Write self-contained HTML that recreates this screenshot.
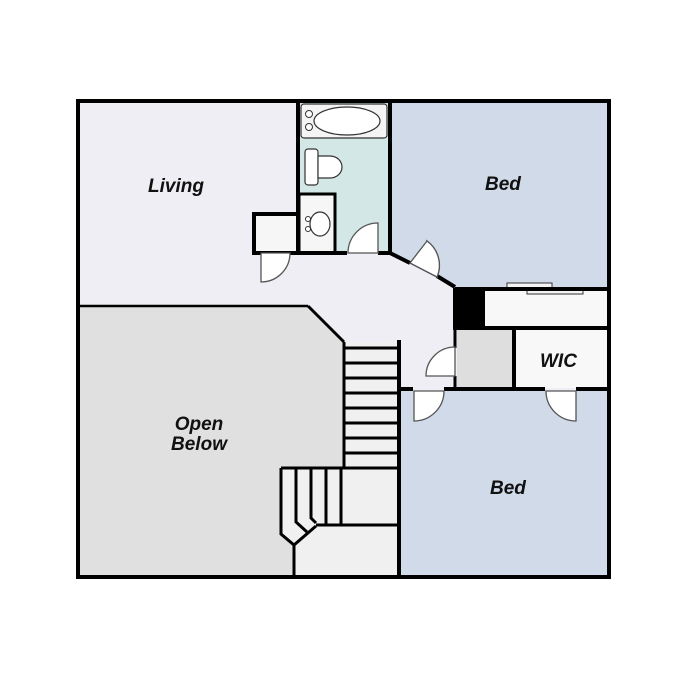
<!DOCTYPE html>
<html><head><style>body{margin:0;background:#fff}svg{display:block}text{font-family:"Liberation Sans",sans-serif;font-weight:bold;font-style:italic;font-size:19px;fill:#111}</style></head>
<body>
<svg width="700" height="700" viewBox="0 0 700 700" xmlns="http://www.w3.org/2000/svg">
<rect x="0" y="0" width="700" height="700" fill="#fff"/>
<!-- base hall/living -->
<rect x="78" y="101" width="531" height="476" fill="#eeeef4"/>
<!-- open below -->
<polygon points="80,306 308,306 344,342 344,468 281,468 281,534 294,545 294,575 80,575" fill="#e0e0e0"/>
<polygon points="344,342 399,342 399,575 294,575 294,545 281,534 281,468 344,468" fill="#f0f0f0"/>
<!-- bath -->
<rect x="299" y="103" width="91" height="150" fill="#d3e8e6"/>
<rect x="301" y="104" width="86" height="34" rx="3" fill="#f4f4f4" stroke="#333" stroke-width="1.2"/>
<ellipse cx="347" cy="121" rx="33" ry="14" fill="#fff" stroke="#333" stroke-width="1.2"/>
<circle cx="309" cy="114" r="3.5" fill="#fff" stroke="#333"/>
<circle cx="309" cy="127" r="3.5" fill="#fff" stroke="#333"/>
<rect x="305" y="149" width="13" height="36" rx="3" fill="#fff" stroke="#333" stroke-width="1.2"/>
<path d="M318,156 L330,156 A12,11 0 0 1 330,178 L318,178 Z" fill="#fff" stroke="#333" stroke-width="1.2"/>
<rect x="299" y="194" width="36" height="59" fill="#f6f6f6" stroke="#000" stroke-width="3"/>
<ellipse cx="320" cy="224" rx="10" ry="12" fill="#fff" stroke="#333" stroke-width="1.2"/>
<circle cx="308" cy="219" r="2.5" fill="#fff" stroke="#333"/>
<circle cx="308" cy="229" r="2.5" fill="#fff" stroke="#333"/>
<!-- small closet -->
<rect x="254" y="214" width="44" height="39" fill="#f6f6f6" stroke="#000" stroke-width="4"/>
<!-- top bed -->
<polygon points="390,103 607,103 607,288 455,288 407,262 390,253" fill="#d0dae8"/>
<!-- closet -->
<rect x="455" y="288" width="30" height="40" fill="#000"/>
<rect x="485" y="290" width="122" height="38" fill="#f8f8f8"/>
<rect x="507" y="283" width="45" height="5" fill="#f4f4f4" stroke="#333"/>
<rect x="527" y="290" width="56" height="4" fill="#f4f4f4" stroke="#333"/>
<line x1="455" y1="289" x2="609" y2="289" stroke="#000" stroke-width="4"/>
<line x1="455" y1="328" x2="609" y2="328" stroke="#000" stroke-width="4"/>
<!-- WIC -->
<rect x="457" y="330" width="56" height="58" fill="#dedede"/>
<rect x="514" y="330" width="94" height="58" fill="#f8f8f8"/>
<line x1="514" y1="328" x2="514" y2="390" stroke="#000" stroke-width="4"/>
<line x1="455" y1="288" x2="455" y2="330" stroke="#000" stroke-width="4"/>
<line x1="455" y1="330" x2="455" y2="348" stroke="#000" stroke-width="3"/>
<line x1="455" y1="376" x2="455" y2="390" stroke="#000" stroke-width="3"/>
<!-- bottom bed -->
<rect x="400" y="391" width="207" height="184" fill="#d0dae8"/>
<line x1="399" y1="389" x2="413" y2="389" stroke="#000" stroke-width="4"/>
<line x1="444" y1="389" x2="545" y2="389" stroke="#000" stroke-width="4"/>
<line x1="576" y1="389" x2="609" y2="389" stroke="#000" stroke-width="4"/>
<!-- stairs -->
<line x1="399" y1="340" x2="399" y2="577" stroke="#000" stroke-width="4"/>
<line x1="344" y1="342" x2="344" y2="468" stroke="#000" stroke-width="3"/>
<line x1="308" y1="306" x2="344" y2="342" stroke="#000" stroke-width="3"/>
<line x1="80" y1="306" x2="308" y2="306" stroke="#000" stroke-width="2.5"/>
<g stroke="#000" stroke-width="3">
<line x1="344" y1="348" x2="399" y2="348"/><line x1="344" y1="363" x2="399" y2="363"/>
<line x1="344" y1="378" x2="399" y2="378"/><line x1="344" y1="393" x2="399" y2="393"/>
<line x1="344" y1="408" x2="399" y2="408"/><line x1="344" y1="423" x2="399" y2="423"/>
<line x1="344" y1="438" x2="399" y2="438"/><line x1="344" y1="453" x2="399" y2="453"/>
<line x1="281" y1="468" x2="399" y2="468"/>
<line x1="316" y1="525" x2="399" y2="525"/>
<line x1="326" y1="468" x2="326" y2="525"/><line x1="341" y1="468" x2="341" y2="525"/>
<polyline fill="none" points="281,468 281,534 294,545 316,526"/>
<polyline fill="none" points="296,468 296,522 307,532"/>
<polyline fill="none" points="311,468 311,518 316,523"/>
<line x1="294" y1="545" x2="294" y2="577"/>
</g>
<!-- walls -->
<g stroke="#000" stroke-width="4" fill="none">
<line x1="298" y1="101" x2="298" y2="253"/>
<line x1="390" y1="101" x2="390" y2="255"/>
<line x1="298" y1="253" x2="347" y2="253"/>
<line x1="378" y1="253" x2="392" y2="253"/>
<polyline points="390,253 410,263"/>
<polyline points="437,276 455,287"/>
</g>
<!-- doors -->
<g fill="#fff" stroke="#555" stroke-width="1.3">
<path d="M348,253 L378,253 L378,223 A30,30 0 0 0 348,253 Z"/>
<path d="M261,253 L290,253 A29,29 0 0 1 261,282 Z"/>
<path d="M410,263 L437,277 L427,241 A30,30 0 0 1 437,277"/>
<path d="M410,263 L427,241 A30,30 0 0 1 437,277 Z"/>
<path d="M455,347 L455,376 L426,376 A29,29 0 0 1 455,347 Z"/>
<path d="M414,391 L444,391 A30,30 0 0 1 414,421 Z"/>
<path d="M576,391 L546,391 A30,30 0 0 0 576,421 Z"/>
</g>
<!-- outer -->
<rect x="78" y="101" width="531" height="476" fill="none" stroke="#000" stroke-width="4"/>
<text x="148" y="192">Living</text>
<text x="485" y="190">Bed</text>
<text x="540" y="367">WIC</text>
<text x="490" y="494">Bed</text>
<text x="199" y="430" text-anchor="middle">Open</text>
<text x="199" y="450" text-anchor="middle">Below</text>
</svg>
</body></html>
